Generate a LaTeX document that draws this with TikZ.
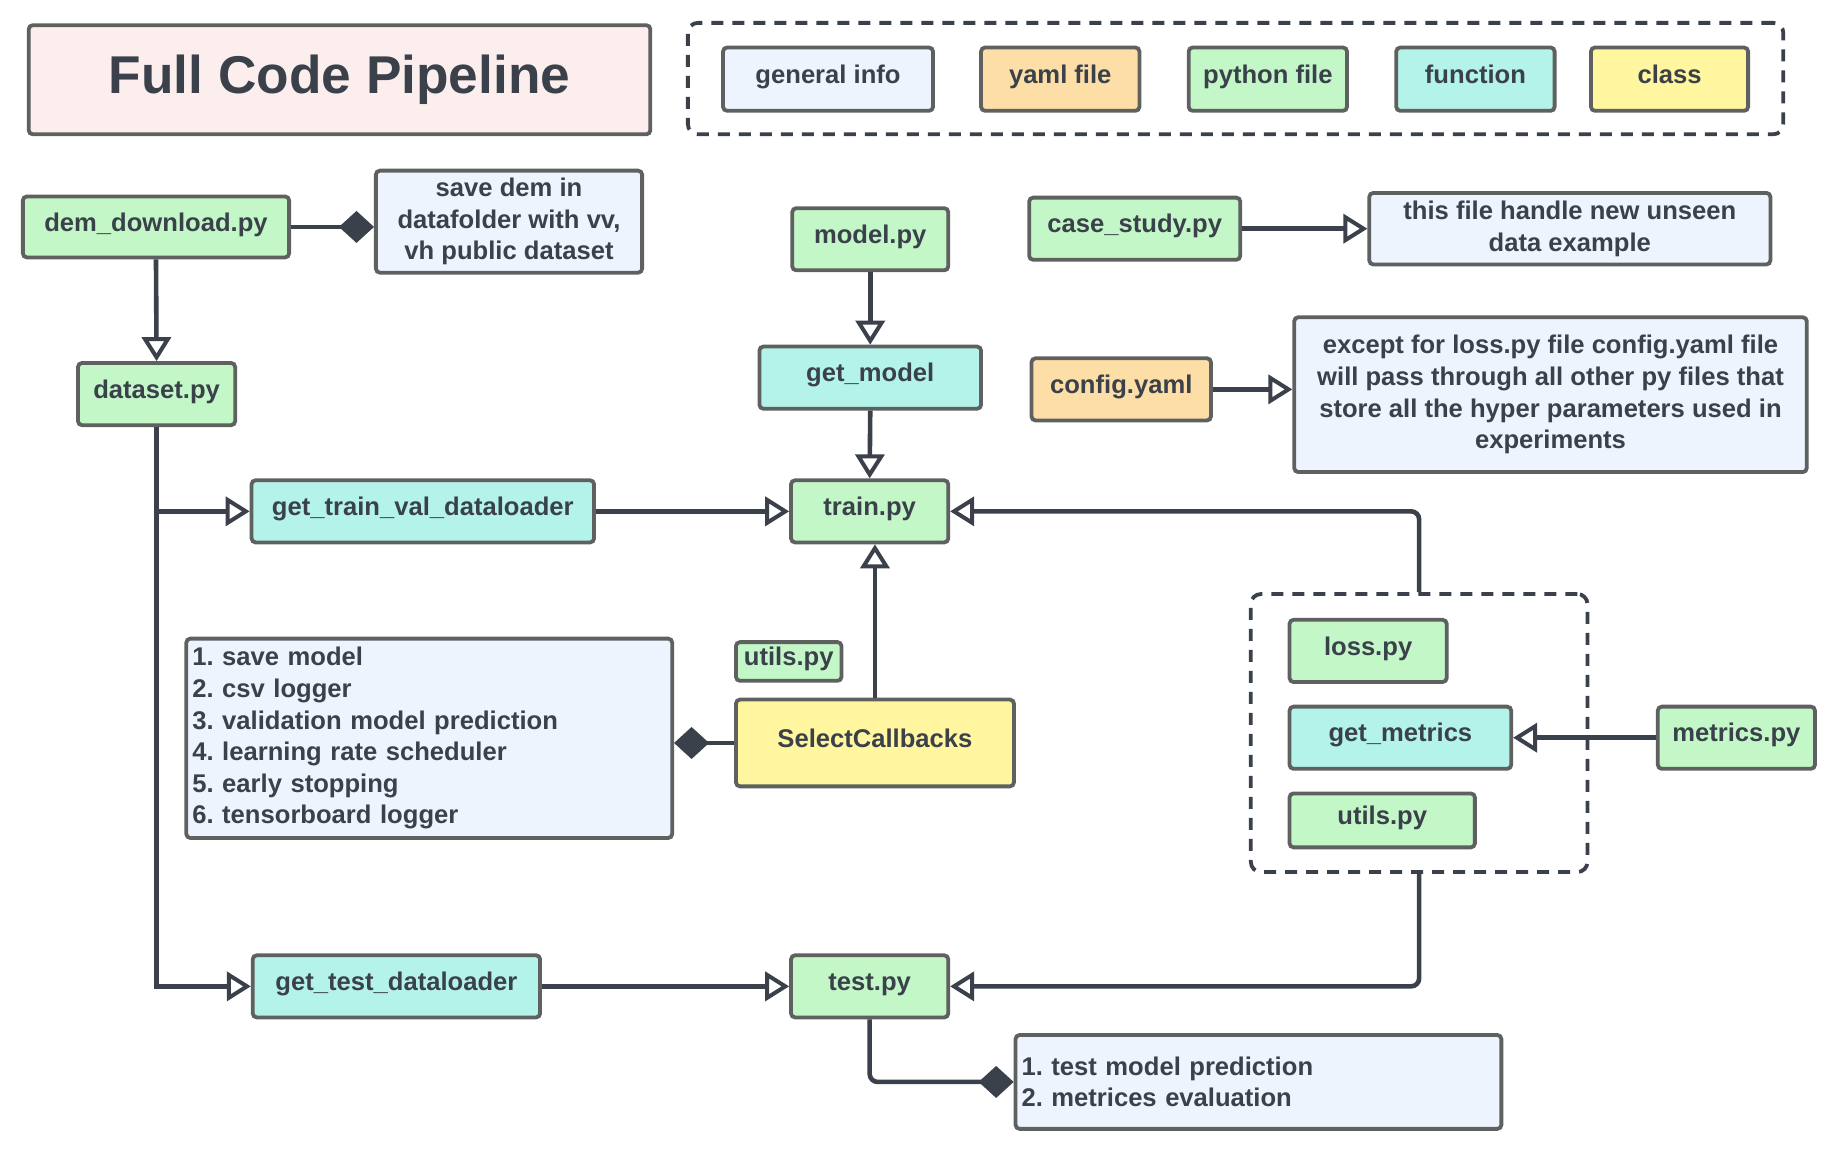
\documentclass[tikz,border=0pt]{standalone}
\usepackage{fontspec}
\setmainfont{Liberation Sans}
\usetikzlibrary{arrows.meta}
\definecolor{bordergray}{HTML}{5F6060}
\definecolor{linec}{HTML}{3A414A}
\definecolor{txt}{HTML}{3A414A}
\definecolor{cpink}{HTML}{FDEEEE}
\definecolor{cinfo}{HTML}{EDF4FE}
\definecolor{cyaml}{HTML}{FDDEA6}
\definecolor{cpy}{HTML}{C3F7C8}
\definecolor{cfun}{HTML}{B3F3EA}
\definecolor{ccls}{HTML}{FFF69F}
\tikzset{
  box/.style={draw=bordergray, line width=1.9pt, rounded corners=2pt, text=txt,
    font=\bfseries\fontsize{12.8}{15.8}\selectfont\frenchspacing, align=center, inner sep=2pt},
  sl/.style={text height=9.2pt, text depth=5pt},
  sz/.style 2 args={minimum width={(#1-3)*0.5864pt}, minimum height={(#2-3)*0.5864pt}},
  info/.style={box, fill=cinfo},
  yamlb/.style={box, fill=cyaml},
  pyb/.style={box, fill=cpy},
  funb/.style={box, fill=cfun},
  clsb/.style={box, fill=ccls},
  dashbox/.style={draw=linec, line width=1.9pt, dash pattern=on 6pt off 4.5pt, rounded corners=5pt},
  arr/.style={draw=linec, line width=2.3pt, -{Triangle[open, length=12pt, width=14.5pt, line width=2pt]}},
  diam/.style={draw=linec, line width=2.3pt, -{Diamond[length=17.5pt, width=16pt, fill=linec]}},
}
\begin{document}
\begin{tikzpicture}[x=0.5864pt, y=-0.5864pt]
\useasboundingbox[fill=white] (0,0) rectangle (1568,983);
% title and legend
\node[box, fill=cpink, sz={533}{96}, font=\bfseries\fontsize{26.6}{30}\selectfont] (title) at (289.5,68) {Full Code Pipeline};
\node[dashbox, sz={937}{98}] (legend) at (1053.5,67) {};
\node[info, sl, sz={182}{57}] (lginfo) at (706,67.5) {general info};
\node[yamlb, sl, sz={138}{57}] (lgyaml) at (904,67.5) {yaml file};
\node[pyb, sl, sz={138}{57}] (lgpy) at (1081,67.5) {python file};
\node[funb, sl, sz={138}{57}] (lgfun) at (1258,67.5) {function};
\node[clsb, sl, sz={137}{57}] (lgcls) at (1423.5,67.5) {class};
% nodes
\node[pyb, sl, sz={230}{55}] (dem) at (133,193.5) {dem\_download.py};
\node[info, sz={230}{90}] (demnote) at (434,189) {save dem in\\datafolder with vv,\\vh public dataset};
\node[pyb, sl, sz={137}{56}] (dataset) at (133.5,336) {dataset.py};
\node[pyb, sl, sz={136}{56}] (model) at (742,204) {model.py};
\node[funb, sl, sz={192}{56}] (getmodel) at (742,322) {get\_model};
\node[pyb, sl, sz={137}{56}] (train) at (741.5,436) {train.py};
\node[funb, sl, sz={295}{56}] (gtv) at (360.5,436) {get\_train\_val\_dataloader};
\node[pyb, sl, sz={183}{56}] (case) at (967.5,195) {case\_study.py};
\node[info, sz={345}{64}] (casenote) at (1338.5,195) {this file handle new unseen\\data example};
\node[yamlb, sl, sz={156}{56}] (config) at (956,332) {config.yaml};
\node[info, sz={440}{135}] (confignote) at (1322,336.5) {except for loss.py file config.yaml file\\will pass through all other py files that\\store all the hyper parameters used in\\experiments};
\node[dashbox, sz={290}{240}] (group) at (1210,625) {};
\node[pyb, sl, sz={137}{56}] (loss) at (1166.5,555) {loss.py};
\node[funb, sl, sz={192}{56}] (getmetrics) at (1194,629) {get\_metrics};
\node[pyb, sl, sz={161}{49}] (utilsb) at (1178.5,699.5) {utils.py};
\node[pyb, sl, sz={137}{56}] (metrics) at (1480.5,629) {metrics.py};
\node[pyb, sl, sz={93}{36}] (utilsa) at (672.5,564) {utils.py};
\node[clsb, sl, sz={240}{77}] (selcb) at (746,633.5) {SelectCallbacks};
\node[info, sz={416}{173}, text width={(416-12)*0.5864pt}, align=left, inner xsep=3pt] (cbnote) at (366,629.5) {1. save model\\2. csv logger\\3. validation model prediction\\4. learning rate scheduler\\5. early stopping\\6. tensorboard logger};
\node[funb, sl, sz={248}{56}] (gtest) at (338,841) {get\_test\_dataloader};
\node[pyb, sl, sz={137}{56}] (test) at (741.5,841) {test.py};
\node[info, sz={416}{83}, text width={(416-12)*0.5864pt}, align=left, inner xsep=3pt] (testnote) at (1073,922.5) {1. test model prediction\\2. metrices evaluation};
% connectors
\draw[diam] (dem.east) -- (dem.east -| demnote.west);
\draw[arr] (dem.south) -- (dataset.north);
\draw[arr] (dataset.south) |- (gtv.west);
\draw[arr] (dataset.south) |- (gtest.west);
\draw[arr] (model.south) -- (getmodel.north);
\draw[arr] (getmodel.south) -- (train.north);
\draw[arr] (gtv.east) -- (train.west);
\draw[arr] (case.east) -- (casenote.west);
\draw[arr] (config.east) -- (config.east -| confignote.west);
\draw[arr, rounded corners=4pt] (group.north) |- (train.east);
\draw[arr, rounded corners=4pt] (group.south) |- (test.east);
\draw[arr] (metrics.west) -- (getmetrics.east);
\draw[arr] (selcb.north) -- (selcb.north |- train.south);
\draw[diam] (selcb.west) -- (selcb.west -| cbnote.east);
\draw[arr] (gtest.east) -- (test.west);
\draw[diam, rounded corners=4pt] (test.south) |- (testnote.west);
\end{tikzpicture}
\end{document}
